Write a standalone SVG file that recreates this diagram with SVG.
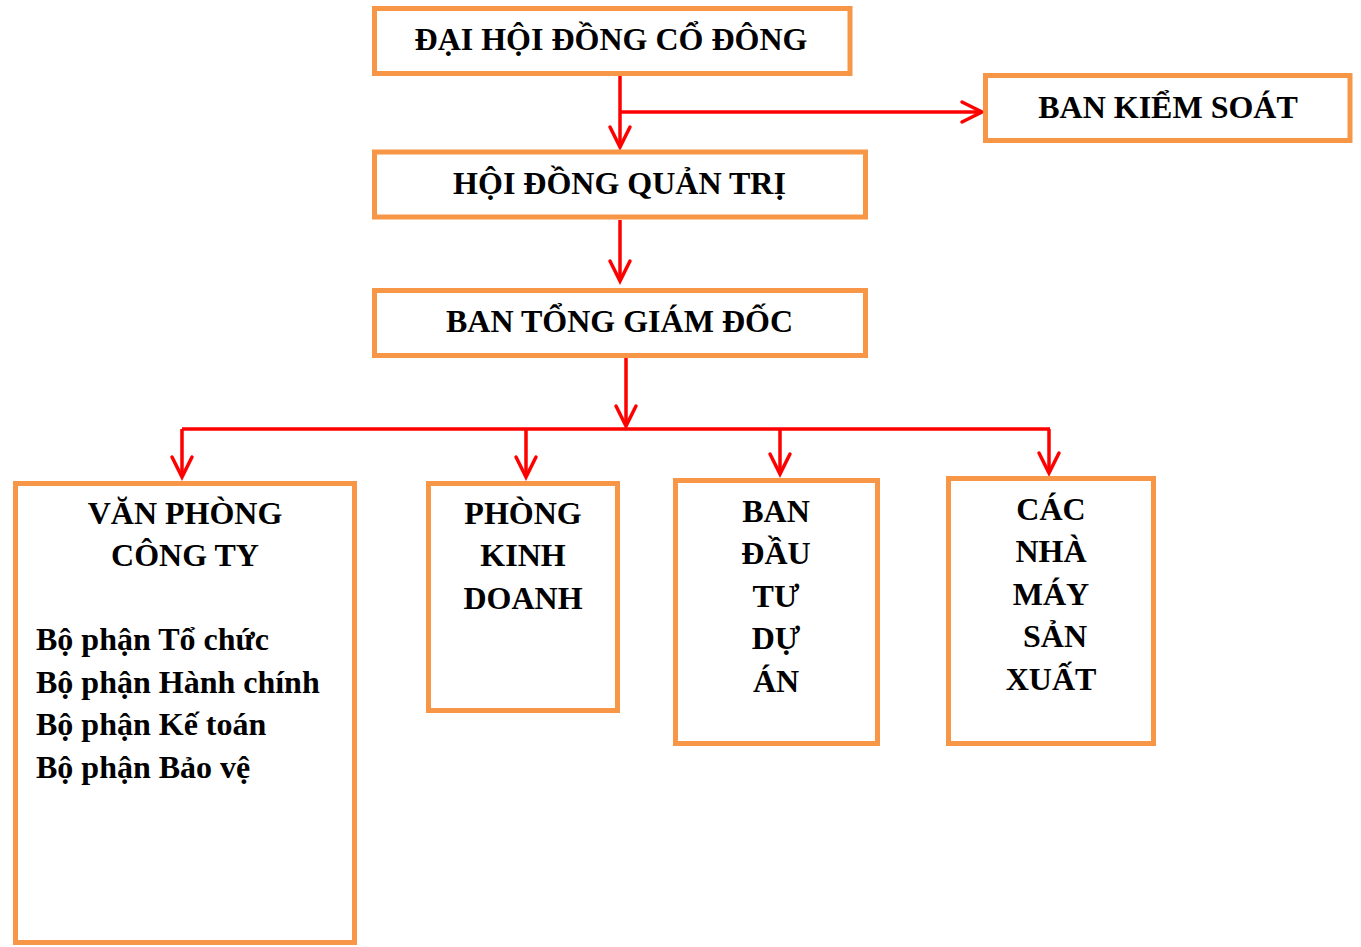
<svg xmlns="http://www.w3.org/2000/svg" width="1361" height="947" viewBox="0 0 1361 947">
<style>
.box{fill:#fff;stroke:#F79646;stroke-width:5}
.t{font-family:"Liberation Serif","Times New Roman",serif;font-weight:bold;font-size:32px;fill:#000}
.c{text-anchor:middle}
.ln{fill:none;stroke:#FF0000;stroke-width:3.5;marker-end:url(#ah)}
.ln0{fill:none;stroke:#FF0000;stroke-width:3.5}
</style>
<defs>
<marker id="ah" markerUnits="userSpaceOnUse" markerWidth="30" markerHeight="30" refX="0" refY="0" viewBox="-25 -15 30 30" orient="auto" overflow="visible">
<path d="M-20,-10 L0,0 L-20,10" fill="none" stroke="#FF0000" stroke-width="3.5" stroke-linecap="round" stroke-linejoin="miter"/>
</marker>
</defs>
<rect width="1361" height="947" fill="#fff"/>
<g id="connectors">
<path class="ln" d="M620,76 V147"/>
<path class="ln" d="M620,112 H982"/>
<path class="ln" d="M620,220 V281"/>
<path class="ln" d="M626,357 V426"/>
<path class="ln0" d="M182,429 H1050"/>
<path class="ln" d="M182,429 V477"/>
<path class="ln" d="M526,429 V477"/>
<path class="ln" d="M780,429 V474"/>
<path class="ln" d="M1049,429 V473"/>
</g>
<g id="dhdcd">
<rect class="box" x="374.5" y="8.5" width="475.5" height="65"/>
<text class="t c" x="611" y="50">ĐẠI HỘI ĐỒNG CỔ ĐÔNG</text>
</g>
<g id="bks">
<rect class="box" x="985.5" y="75.5" width="364.5" height="65"/>
<text class="t c" x="1168" y="118">BAN KIỂM SOÁT</text>
</g>
<g id="hdqt">
<rect class="box" x="374.5" y="152" width="491" height="65"/>
<text class="t c" x="619.5" y="194">HỘI ĐỒNG QUẢN TRỊ</text>
</g>
<g id="btgd">
<rect class="box" x="374.5" y="290.5" width="491" height="65"/>
<text class="t c" x="619.5" y="332">BAN TỔNG GIÁM ĐỐC</text>
</g>
<g id="vpct">
<rect class="box" x="15.5" y="483.5" width="339" height="459"/>
<text class="t c" x="185" y="524">VĂN PHÒNG</text>
<text class="t c" x="185" y="566">CÔNG TY</text>
<text class="t" x="36" y="650">Bộ phận Tổ chức</text>
<text class="t" x="36" y="692.5">Bộ phận Hành chính</text>
<text class="t" x="36" y="735">Bộ phận Kế toán</text>
<text class="t" x="36" y="777.5">Bộ phận Bảo vệ</text>
</g>
<g id="pkd">
<rect class="box" x="428.5" y="483.5" width="189" height="227"/>
<text class="t c" x="523" y="524">PHÒNG</text>
<text class="t c" x="523" y="566">KINH</text>
<text class="t c" x="523" y="609">DOANH</text>
</g>
<g id="bdtda">
<rect class="box" x="675.5" y="480.5" width="202" height="263"/>
<text class="t c" x="776" y="522">BAN</text>
<text class="t c" x="776" y="564">ĐẦU</text>
<text class="t c" x="776" y="607">TƯ</text>
<text class="t c" x="776" y="649">DỰ</text>
<text class="t c" x="776" y="692">ÁN</text>
</g>
<g id="cnmsx">
<rect class="box" x="948.5" y="478.5" width="205" height="265"/>
<text class="t c" x="1051" y="520">CÁC</text>
<text class="t c" x="1051" y="562">NHÀ</text>
<text class="t c" x="1051" y="605">MÁY</text>
<text class="t c" x="1055" y="647">SẢN</text>
<text class="t c" x="1051" y="690">XUẤT</text>
</g>
</svg>
